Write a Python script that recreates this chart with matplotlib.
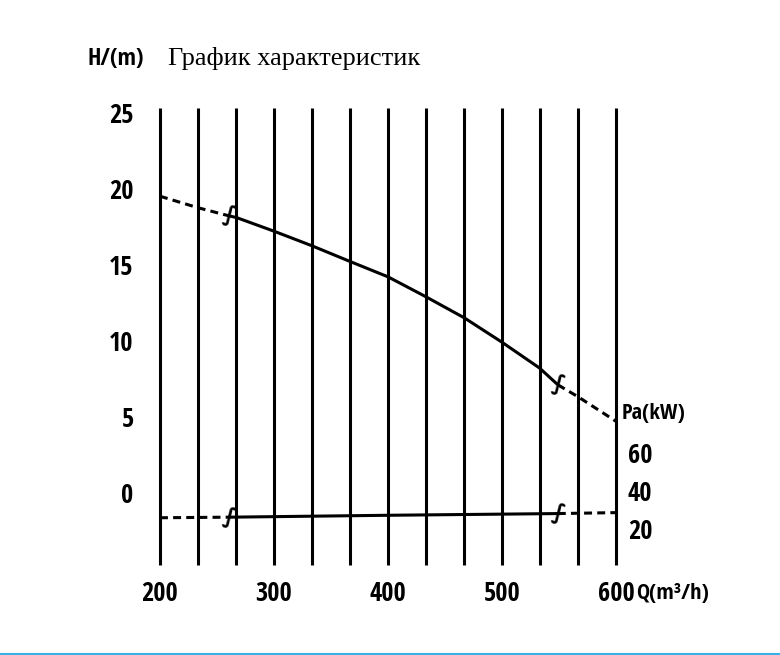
import numpy as np
import matplotlib
matplotlib.use("Agg")
import matplotlib.pyplot as plt
from matplotlib.lines import Line2D

# ---- data ----
q_head = [200, 233, 261, 267, 300, 333, 367, 400, 433, 467, 500, 533, 549, 567, 600]
head = [19.5, 18.75, 18.2, 18.1, 17.2, 16.25, 15.2, 14.2, 12.9, 11.5, 9.9, 8.2, 7.1, 6.3, 4.7]
q_power = [200, 261, 400, 549, 600]
power = [25.4, 25.7, 26.7, 27.6, 28.1]
head_solid = (2, 12)   # index range of the solid (working) part
power_solid = (1, 3)
x_ticks = [200, 300, 400, 500, 600]
x_ticklabels = ["200", "300", "400", "500", "600"]
h_ticks = [0, 5, 10, 15, 20, 25]
p_ticks = [20, 40, 60]
title = "График характеристик"
h_label = "H/(m)"
q_label = "Q(m³/h)"
p_label = "Pa(kW)"

NUM = dict(family=['Noto Sans ExtraCondensed', 'Open Sans Condensed', 'Roboto Condensed', 'DejaVu Sans'],
           fontweight='bold', fontstretch='extra-condensed')
FS = 19
LW = 2.2
DASH = (2.6, 1.7)

fig = plt.figure(figsize=(7.8, 6.55), dpi=100)
ax = fig.add_axes([0.2051, 0.1374, 0.5846, 0.6977])
ax.set_xlim(200, 600)
ax.set_ylim(-4.75, 25.3)
for s in ax.spines.values():
    s.set_visible(False)

# vertical grid lines
grid_q = np.linspace(200, 600, 13)
ax.vlines(grid_q, -4.75, 25.3, colors='black', linewidth=LW, clip_on=False, zorder=1)

# head curve
a, b = head_solid
ax.plot(q_head[:a + 1], head[:a + 1], color='black', lw=LW, dashes=DASH, zorder=3)
ax.plot(q_head[a:b + 1], head[a:b + 1], color='black', lw=LW, zorder=3, solid_capstyle='butt')
ax.plot(q_head[b:], head[b:], color='black', lw=LW, dashes=DASH, zorder=3, clip_on=False)

# ticks
ax.set_xticks(x_ticks)
ax.set_xticklabels(x_ticklabels)
ax.set_yticks(h_ticks)
ax.tick_params(axis='both', length=0, labelsize=FS)
ax.tick_params(axis='x', pad=11)
ax.tick_params(axis='y', pad=19)
for lab in ax.get_xticklabels() + ax.get_yticklabels():
    lab.set(**NUM)

# power on twin axis
ax2 = ax.twinx()
ax2.set_ylim(0.53, 241.05)
for s in ax2.spines.values():
    s.set_visible(False)
pa, pb = power_solid
ax2.plot(q_power[:pa + 1], power[:pa + 1], color='black', lw=LW, dashes=DASH, zorder=3)
ax2.plot(q_power[pa:pb + 1], power[pa:pb + 1], color='black', lw=LW, zorder=3)
ax2.plot(q_power[pb:], power[pb:], color='black', lw=LW, dashes=DASH, zorder=3, clip_on=False)
ax2.set_yticks(p_ticks)
ax2.tick_params(axis='y', length=0, labelsize=FS, pad=8.5)
for lab in ax2.get_yticklabels():
    lab.set(**NUM)
ax2.annotate(p_label, xy=(1.0, 80.5), xycoords=ax2.get_yaxis_transform(),
             xytext=(4, 0), textcoords='offset points', ha='left', va='center',
             fontsize=16, **NUM)

# curve junction marks
for (qq, hh) in [(q_head[a], head[a]), (q_head[b], head[b])]:
    ax.text(qq, hh, "∫", ha='center', va='center', fontsize=16, fontweight='bold', zorder=4,
            family='DejaVu Sans', rotation=-10)
for (qq, pp) in [(q_power[pa], power[pa]), (q_power[pb], power[pb])]:
    ax2.text(qq, pp, "∫", ha='center', va='center', fontsize=16, fontweight='bold', zorder=4,
             family='DejaVu Sans', rotation=-10)

# axis labels / title
ax.annotate(q_label, xy=(1.0, 0), xycoords='axes fraction', xytext=(14.5, -13),
            textcoords='offset points', ha='left', va='top', fontsize=16, **NUM)
fig.text(0.1128, 0.91, h_label, ha='left', va='center', fontsize=17, **NUM)
fig.text(0.2154, 0.91, title, ha='left', va='center', fontsize=19, family='Liberation Serif')

# thin blue line at bottom edge
fig.add_artist(Line2D([0, 1], [0.002, 0.002], transform=fig.transFigure, color='#3aaee6', lw=1.5))

fig.savefig("out.png", dpi=100)
